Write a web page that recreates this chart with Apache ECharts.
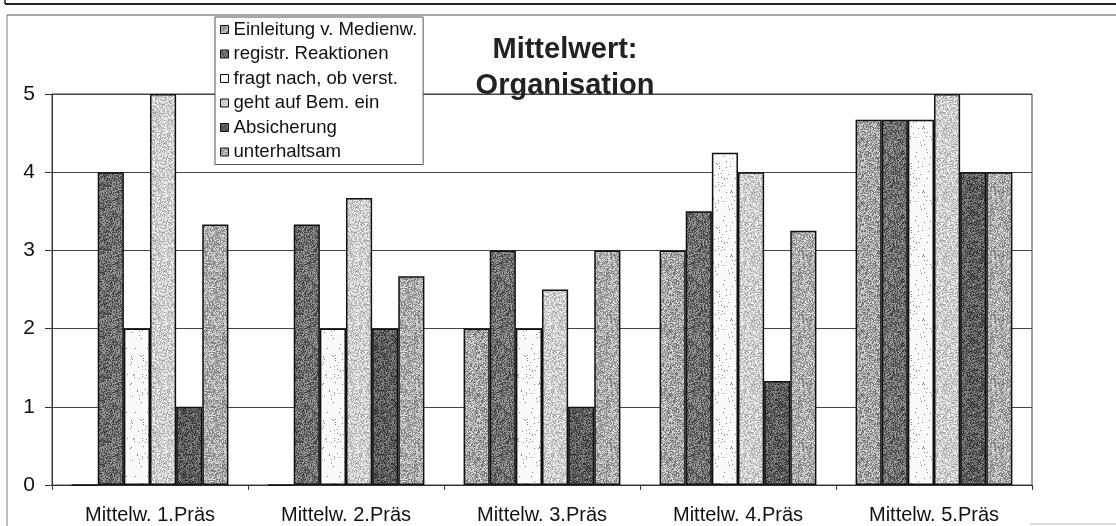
<!DOCTYPE html>
<html>
<head>
<meta charset="utf-8">
<script src="https://cdn.jsdelivr.net/npm/echarts@6/dist/echarts.min.js"></script>
<style>
  html, body { margin: 0; padding: 0; background: #fff; }
  #chart { width: 1116px; height: 526px; }
</style>
</head>
<body>
<div id="chart"></div>
<script>
// Mean ratings per presentation
const categories = ['Mittelw. 1.Präs', 'Mittelw. 2.Präs', 'Mittelw. 3.Präs', 'Mittelw. 4.Präs', 'Mittelw. 5.Präs'];
const seriesNames = ['Einleitung v. Medienw.', 'registr. Reaktionen', 'fragt nach, ob verst.', 'geht auf Bem. ein', 'Absicherung', 'unterhaltsam'];
const einleitung   = [0, 0, 2, 3, 4.67];
const registr      = [4, 3.33, 3, 3.5, 4.67];
const fragt        = [2, 2, 2, 4.25, 4.67];
const geht         = [5, 3.67, 2.5, 4, 5];
const absicherung  = [1, 2, 1, 1.33, 4];
const unterhaltsam = [3.33, 2.67, 3, 3.25, 4];
const yTicks = [0, 1, 2, 3, 4, 5];

const values = [einleitung, registr, fragt, geht, absicherung, unterhaltsam];

// Stippled grey fill tiles (deterministic hash grain), one per series:
// [base grey, grain amplitude, sparse-dot mode]
const tileSpecs = [
  [165, 130, false],
  [110, 120, false],
  [250, 0, true],
  [205, 100, false],
  [92, 110, false],
  [172, 120, false]
];

function hash(x, y, s) {
  let h = Math.imul(x, 374761393) ^ Math.imul(y, 668265263) ^ Math.imul(s + 1, 1274126177);
  h = Math.imul(h ^ (h >>> 13), 1103515245);
  h ^= h >>> 16;
  return (h >>> 0) / 4294967296;
}

function makeTile(spec, seed) {
  const size = 64;
  const c = document.createElement('canvas');
  c.width = size; c.height = size;
  const ctx = c.getContext('2d');
  const img = ctx.createImageData(size, size);
  for (let y = 0; y < size; y++) {
    for (let x = 0; x < size; x++) {
      const r = hash(x, y, seed);
      let v;
      if (spec[2]) {
        v = r < 0.025 ? 130 : spec[0];
      } else {
        v = spec[0] + (r - 0.5) * spec[1];
      }
      v = Math.max(0, Math.min(255, Math.round(v)));
      const k = (y * size + x) * 4;
      img.data[k] = v; img.data[k + 1] = v; img.data[k + 2] = v; img.data[k + 3] = 255;
    }
  }
  ctx.putImageData(img, 0, 0);
  return c;
}

const chart = echarts.init(document.getElementById('chart'), null, { renderer: 'canvas' });

const series = seriesNames.map((name, i) => ({
  name: name,
  type: 'bar',
  data: values[i],
  barGap: '0%',
  barCategoryGap: '20%',
  itemStyle: {
    color: { image: makeTile(tileSpecs[i], i * 7 + 3), repeat: 'repeat' },
    borderColor: '#111', borderWidth: 1.5
  },
  emphasis: { disabled: true }
}));

chart.setOption({
  animation: false,
  backgroundColor: '#fff',
  textStyle: { fontFamily: 'Liberation Sans, Arial, sans-serif', color: '#111' },
  grid: {
    left: 52, right: 84, top: 94, bottom: 41,
    show: true, borderColor: '#444', borderWidth: 1
  },
  legend: {
    orient: 'vertical',
    left: 215, top: 17,
    padding: [3, 6, 3, 5],
    itemGap: 5.5,
    itemWidth: 8, itemHeight: 8,
    icon: 'rect',
    backgroundColor: '#fff',
    borderColor: '#555', borderWidth: 1,
    textStyle: { fontSize: 18.6, lineHeight: 19, color: '#111' },
    itemStyle: { borderColor: '#111', borderWidth: 1 },
    data: seriesNames
  },
  xAxis: {
    type: 'category',
    data: categories,
    axisLine: { lineStyle: { color: '#333', width: 1 } },
    axisTick: { show: true, length: 5, lineStyle: { color: '#333' } },
    axisLabel: { fontSize: 20, color: '#111', margin: 20 }
  },
  yAxis: {
    type: 'value',
    min: yTicks[0], max: yTicks[yTicks.length - 1], interval: 1,
    axisLine: { show: true, lineStyle: { color: '#333', width: 1 } },
    axisTick: { show: true, length: 7, lineStyle: { color: '#333' } },
    axisLabel: { fontSize: 21, color: '#111', margin: 17 },
    splitLine: { lineStyle: { color: '#444', width: 1 } }
  },
  series: series,
  graphic: [
    // outer frame lines
    { type: 'line', shape: { x1: 5, y1: 4, x2: 1116, y2: 4 }, style: { stroke: '#222', lineWidth: 2 }, silent: true },
    { type: 'line', shape: { x1: 5, y1: 0, x2: 5, y2: 4 }, style: { stroke: '#222', lineWidth: 1.5 }, silent: true },
    { type: 'line', shape: { x1: 7, y1: 15, x2: 1116, y2: 15 }, style: { stroke: '#555', lineWidth: 1.2 }, silent: true },
    { type: 'line', shape: { x1: 7, y1: 15, x2: 7, y2: 526 }, style: { stroke: '#777', lineWidth: 1 }, silent: true },
    { type: 'line', shape: { x1: 1030, y1: 524, x2: 1116, y2: 524 }, style: { stroke: '#bbb', lineWidth: 1 }, silent: true },
    // title
    { type: 'text', x: 565, y: 50, z: 10, silent: true,
      style: { text: 'Mittelwert:', fontSize: 29, fontWeight: 'bold', fontFamily: 'Liberation Sans, Arial, sans-serif',
               fill: '#222', align: 'center', verticalAlign: 'middle' } },
    { type: 'text', x: 565, y: 86, z: 10, silent: true,
      style: { text: 'Organisation', fontSize: 29, fontWeight: 'bold', fontFamily: 'Liberation Sans, Arial, sans-serif',
               fill: '#222', align: 'center', verticalAlign: 'middle' } }
  ]
});
</script>
</body>
</html>
